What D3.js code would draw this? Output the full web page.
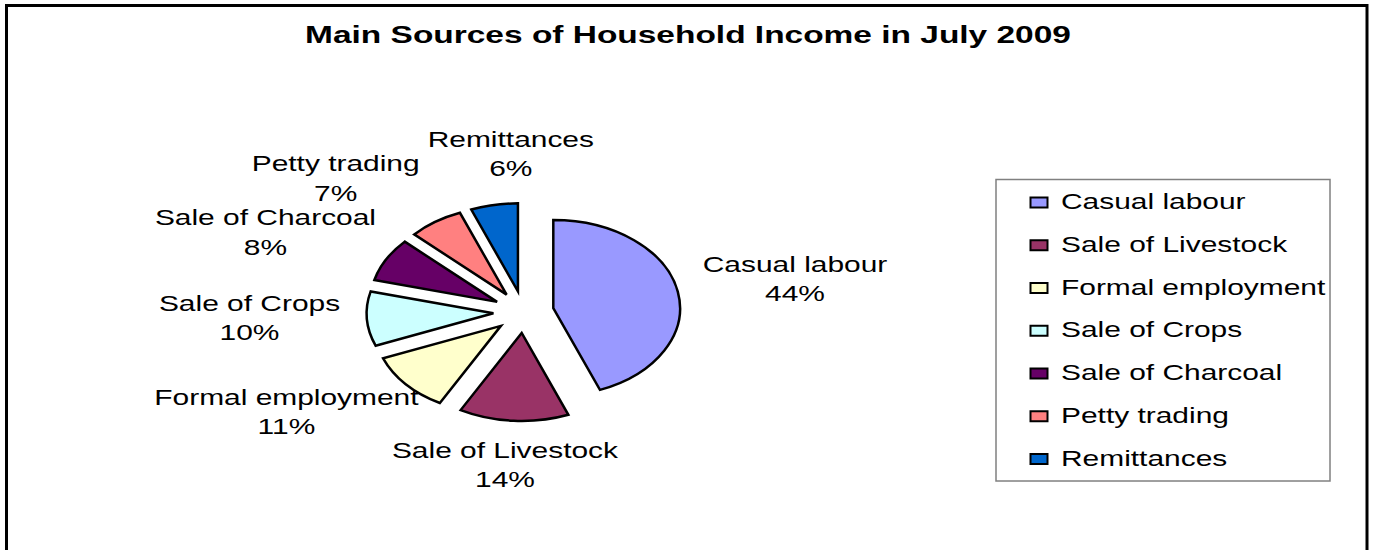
<!DOCTYPE html>
<html>
<head>
<meta charset="utf-8">
<script src="https://cdn.jsdelivr.net/npm/d3@7"></script>
<style>
  body { margin: 0; background: #fff; }
  text { font-family: Arial, "Liberation Sans", sans-serif; fill: #000; }
</style>
</head>
<body>
<div id="chart"></div>
<script>
const title = 'Main Sources of Household Income in July 2009'
const categories = ['Casual labour', 'Sale of Livestock', 'Formal employment', 'Sale of Crops', 'Sale of Charcoal', 'Petty trading', 'Remittances']
const values = [44, 14, 11, 10, 8, 7, 6]
const colors = ['#9999FF', '#993366', '#FFFFCC', '#CCFFFF', '#660066', '#FF8080', '#0066CC']

const width = 1373
const height = 550
// the original picture is stretched sideways, text and pie alike
const stretch = 1.36
const pieStretch = 1.44
const cx = 523.6
const cy = 312
const radius = 88
const explode = 21

const svg = d3.select('#chart')
  .append('svg')
  .attr('width', width)
  .attr('height', height)

svg.append('rect')
  .attr('x', 6.5).attr('y', 5.5)
  .attr('width', 1360.5).attr('height', 560)
  .attr('fill', '#fff')
  .attr('stroke', '#000')
  .attr('stroke-width', 3)

svg.append('text')
  .attr('transform', `translate(688,43) scale(${stretch},1)`)
  .attr('text-anchor', 'middle')
  .style('font-size', '24.6px')
  .style('font-weight', 'bold')
  .text(title)

const data = categories.map((c, i) => ({ name: c, value: values[i], color: colors[i] }))

const pie = d3.pie().sort(null).value(d => d.value)
const arcs = pie(data)
const arc = d3.arc().innerRadius(0).outerRadius(radius)
const mid = d => (d.startAngle + d.endAngle) / 2

const pieG = svg.append('g')
  .attr('transform', `translate(${cx},${cy}) scale(${pieStretch},1)`)

pieG.selectAll('path')
  .data(arcs)
  .enter()
  .append('path')
  .attr('d', arc)
  .attr('transform', d => `translate(${Math.sin(mid(d)) * explode},${-Math.cos(mid(d)) * explode})`)
  .attr('fill', d => d.data.color)
  .attr('stroke', '#000')
  .attr('stroke-width', 2.5)
  .attr('vector-effect', 'non-scaling-stroke')

// data labels: name + percent, placed outside the slice
const labelG = svg.append('g')
const labels = labelG.selectAll('g')
  .data(arcs)
  .enter()
  .append('g')

labels.append('text')
  .attr('class', 'nm')
  .attr('text-anchor', 'middle')
  .style('font-size', '22px')
  .text(d => d.data.name)

labels.append('text')
  .attr('class', 'pc')
  .attr('text-anchor', 'middle')
  .style('font-size', '22px')
  .text(d => d3.format('.0%')(d.data.value / d3.sum(values)))

const boxes = []
labels.each(function(d) {
  const g = d3.select(this)
  const w = Math.max(g.select('.nm').node().getComputedTextLength(), g.select('.pc').node().getComputedTextLength()) * stretch
  const a = mid(d)
  const x = cx + Math.sin(a) * (184 + w / 2)
  const y = cy - Math.cos(a) * 157 - 11
  boxes.push({ d, g, x, y, w, h: 48 })
})

// push overlapping labels apart sideways
for (let k = 0; k < 5; k++) {
  for (let i = 0; i < boxes.length; i++) {
    for (let j = i + 1; j < boxes.length; j++) {
      const A = boxes[i], B = boxes[j]
      const ox = (A.w + B.w) / 2 + 8 - Math.abs(A.x - B.x)
      const oy = A.h - Math.abs(A.y - B.y)
      if (ox > 0 && oy > 0) {
        const s = A.x < B.x ? -1 : 1
        A.x += s * ox / 2
        B.x -= s * ox / 2
      }
    }
  }
}

boxes.forEach(b => {
  b.g.select('.nm').attr('transform', `translate(${b.x},${b.y}) scale(${stretch},1)`)
  b.g.select('.pc').attr('transform', `translate(${b.x},${b.y + 29.5}) scale(${stretch},1)`)
})

// legend
const legY = d3.scalePoint().domain(categories).range([202.5, 459])

svg.append('rect')
  .attr('x', 996).attr('y', 179.5)
  .attr('width', 334).attr('height', 301.5)
  .attr('fill', '#fff')
  .attr('stroke', '#808080')
  .attr('stroke-width', 1.5)

const leg = svg.selectAll('.leg')
  .data(data)
  .enter()
  .append('g')
  .attr('class', 'leg')

leg.append('rect')
  .attr('x', 1030.5)
  .attr('y', d => legY(d.name) - 5)
  .attr('width', 17)
  .attr('height', 10)
  .attr('fill', d => d.color)
  .attr('stroke', '#000')
  .attr('stroke-width', 2)

leg.append('text')
  .attr('transform', d => `translate(1061,${legY(d.name) + 6.5}) scale(${stretch},1)`)
  .style('font-size', '22px')
  .text(d => d.name)
</script>
</body>
</html>
